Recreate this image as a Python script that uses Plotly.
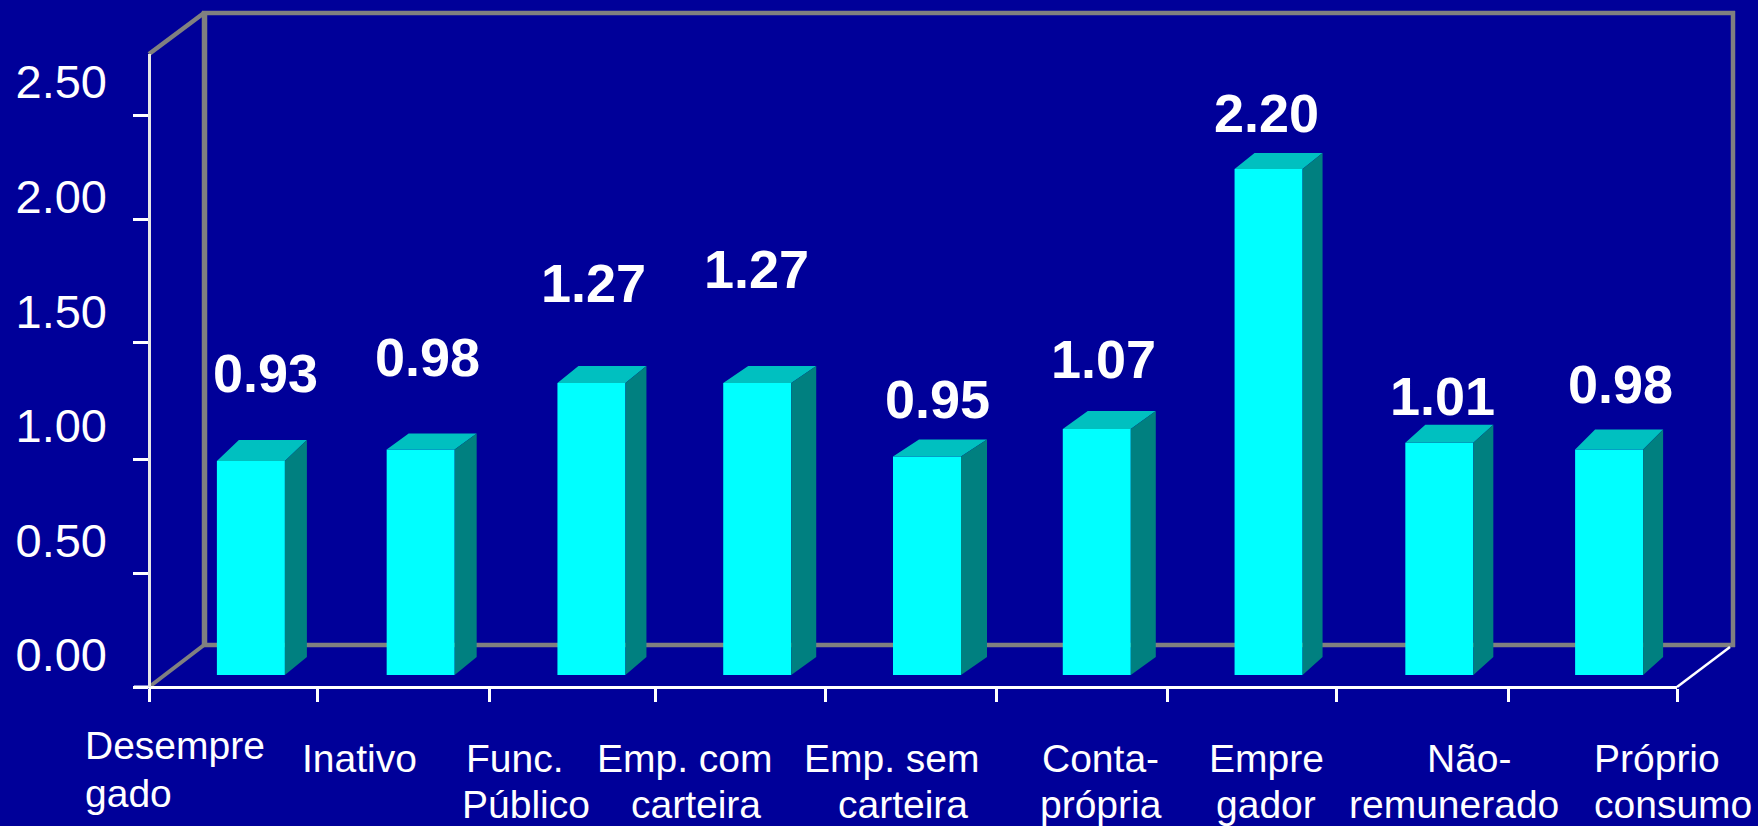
import plotly.graph_objects as go

W, H = 1758, 826
FONT = "Liberation Sans"
NAVY, WHITE, GREY = "#000099", "#FFFFFF", "#808080"

# --- data -----------------------------------------------------------------
categories = ["Desempregado", "Inativo", "Func. Público", "Emp. com carteira",
              "Emp. sem carteira", "Conta-própria", "Empregador",
              "Não-remunerado", "Próprio consumo"]
values = [0.93, 0.98, 1.27, 1.27, 0.95, 1.07, 2.20, 1.01, 0.98]
value_labels = ["0.93", "0.98", "1.27", "1.27", "0.95", "1.07", "2.20", "1.01", "0.98"]
y_tick_values = [0, 0.5, 1.0, 1.5, 2.0, 2.5]
y_tick_labels = ["0.00", "0.50", "1.00", "1.50", "2.00", "2.50"]
# where the drawn tick marks actually sit on the slightly irregular axes
y_tick_marks = [0, 0.498, 0.996, 1.507, 2.045, 2.5]
x_tick_px = [149, 317, 489, 655, 825, 996, 1167, 1336, 1508, 1677]

# --- per-bar placement (pixels in the 1758x826 frame) ----------------------
bar_shift = [0, 0, 1, -3, -3, -3, -1, 0, 0]
bar_depth_x = [22, 22, 21, 25, 26, 25, 20, 20, 20]
bar_depth_y = [21, 16, 17, 17, 17, 18, 16, 18, 20]
label_dx = [32, 24, 20, 13, 24, 21, 14, 20, 28]
label_dy = [88, 93, 100, 114, 58, 70, 56, 47, 66]
axis_text = ["Desempre", "gado", "Inativo", "Func.", "Público", "Emp. com", "carteira",
             "Emp. sem", "carteira", "Conta-", "própria", "Empre", "gador",
             "Não-", "remunerado", "Próprio", "consumo"]
axis_text_x = [175, 128, 359, 515, 526, 685, 696, 892, 903, 1100, 1101, 1266, 1266, 1469, 1454, 1657, 1673]
axis_text_y = [745, 793, 758, 758, 804, 758, 804, 758, 804, 758, 804, 758, 804, 758, 804, 758, 804]

# --- geometry --------------------------------------------------------------
X0, X1 = 149, 1677            # front x axis extent
AXIS_Y = 687                  # front floor line
BAR_BASE = 675                # bottom of the bars
UNIT = 230.0                  # pixels per value unit for the bars
TICK_UNIT = 228.8             # pixels per value unit on the front axis
STEP = (X1 - X0) / len(categories)
BAR_W = 68 / STEP
BAR_OFF = 17 / STEP - BAR_W / 2
FLOOR_DY = 18 / UNIT
px = lambda p: p / W
py = lambda p: 1 - p / H
idx = list(range(len(categories)))
offsets = [BAR_OFF + s / STEP for s in bar_shift]

top_x, top_y, side_x, side_y = [], [], [], []
for i, v, o, ddx, ddy in zip(idx, values, offsets, bar_depth_x, bar_depth_y):
    l = i + o
    r = l + BAR_W
    dx = ddx / STEP
    dy = ddy / UNIT
    top_x += [l, l + dx, r + dx, r, l, None]
    top_y += [v, v + dy, v + dy, v, v, None]
    side_x += [r, r + dx, r + dx, r, r, None]
    side_y += [0, FLOOR_DY, v + dy, v, 0, None]

fig = go.Figure()
fig.add_trace(go.Bar(x=idx, y=values, width=BAR_W, offset=offsets,
                     customdata=categories, hovertemplate="%{customdata}: %{y:.2f}<extra></extra>",
                     marker=dict(color="#00FFFF", line=dict(width=0))))
fig.add_trace(go.Scatter(x=top_x, y=top_y, mode="lines", fill="toself", fillcolor="#00C0C0",
                         line=dict(width=0, color="#00C0C0"), hoverinfo="skip"))
fig.add_trace(go.Scatter(x=side_x, y=side_y, mode="lines", fill="toself", fillcolor="#008080",
                         line=dict(width=0, color="#008080"), hoverinfo="skip"))
# carriers so the two helper value axes are drawn
fig.add_trace(go.Scatter(x=[0] * 6, y=y_tick_values, yaxis="y2", mode="markers",
                         marker=dict(opacity=0), hoverinfo="skip"))
fig.add_trace(go.Scatter(x=[0] * 6, y=y_tick_values, yaxis="y3", mode="markers",
                         marker=dict(opacity=0), hoverinfo="skip"))


def seg(x0, y0, x1, y1, color, width):
    return dict(type="line", xref="paper", yref="paper", layer="below",
                x0=px(x0), y0=py(y0), x1=px(x1), y1=py(y1),
                line=dict(color=color, width=width))


shapes = [
    seg(204.5, 11, 204.5, 647, GREY, 5.5),
    seg(202, 13, 1735, 13, GREY, 4.5),
    seg(1733, 11, 1733, 647, GREY, 4.5),
    seg(202, 645, 1735, 645, GREY, 4.5),
    seg(149, 54, 204, 13, GREY, 4.5),
    seg(149, 687, 204, 645, GREY, 4),
    seg(1677, 687, 1730, 647, WHITE, 2.5),
    seg(134, 687, 149, 687, WHITE, 3),
]

annotations = []
for i, v, t, dx, dy in zip(idx, values, value_labels, label_dx, label_dy):
    annotations.append(dict(x=i, y=v, xref="x", yref="y", text=t, showarrow=False,
                            xshift=dx, yshift=dy, xanchor="center", yanchor="middle",
                            font=dict(family=FONT, size=54, color=WHITE, weight="bold")))
for t, ax, ay in zip(axis_text, axis_text_x, axis_text_y):
    annotations.append(dict(x=px(ax), y=py(ay), xref="paper", yref="paper", text=t,
                            showarrow=False, xanchor="center", yanchor="middle",
                            font=dict(family=FONT, size=39, color=WHITE)))

fig.update_layout(
    width=W, height=H, autosize=False, showlegend=False,
    margin=dict(l=0, r=0, t=0, b=0, pad=0),
    paper_bgcolor=NAVY, plot_bgcolor="rgba(0,0,0,0)",
    font=dict(family=FONT, color=WHITE),
    shapes=shapes, annotations=annotations,
    xaxis=dict(domain=[px(X0), px(X1)], range=[-0.5, len(categories) - 0.5],
               anchor="free", position=py(AXIS_Y),
               tickmode="array", tickvals=[(p - X0) / STEP - 0.5 for p in x_tick_px],
               showticklabels=False, ticks="outside", ticklen=13, tickwidth=2.5, tickcolor=WHITE,
               showline=True, linecolor=WHITE, linewidth=3, showgrid=False, zeroline=False,
               fixedrange=True),
    yaxis=dict(domain=[0, 1], range=[(BAR_BASE - H) / UNIT, BAR_BASE / UNIT],
               anchor="free", position=0, visible=False, showgrid=False, zeroline=False,
               fixedrange=True),
    yaxis2=dict(domain=[py(AXIS_Y), py(54)], range=[0, (AXIS_Y - 54) / TICK_UNIT],
                anchor="free", position=px(149),
                tickmode="array", tickvals=y_tick_marks, showticklabels=False,
                ticks="outside", ticklen=15, tickwidth=2.5, tickcolor=WHITE,
                showline=True, linecolor="#E6E6E6", linewidth=3, showgrid=False, zeroline=False,
                fixedrange=True),
    yaxis3=dict(domain=[py(700), py(40)], range=[(655 - 700) / 229.2, (655 - 40) / 229.2],
                anchor="free", position=px(107),
                tickmode="array", tickvals=y_tick_values, ticktext=y_tick_labels,
                ticks="", showline=False, showgrid=False, zeroline=False,
                tickfont=dict(family=FONT, size=47, color=WHITE), fixedrange=True),
)

fig.write_html("out.html", config=dict(displayModeBar=False),
               post_script="document.body.style.margin='0';document.body.style.background='#000099';")
